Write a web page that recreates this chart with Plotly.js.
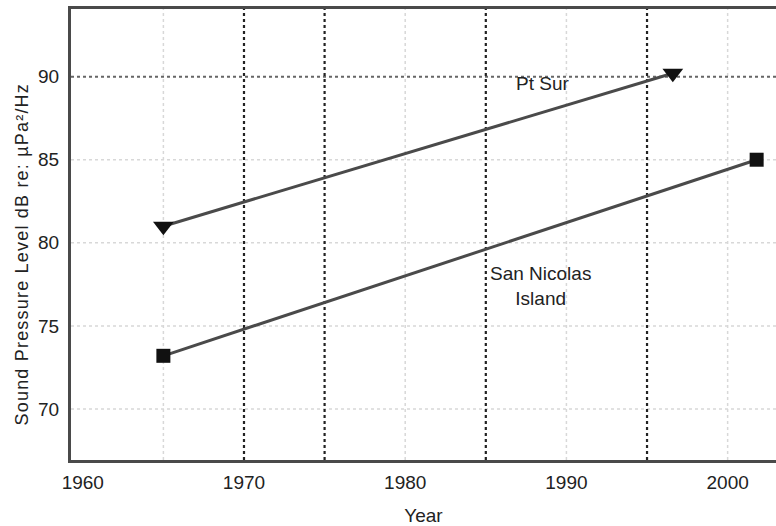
<!DOCTYPE html>
<html>
<head>
<meta charset="utf-8">
<script src="https://cdn.plot.ly/plotly-3.0.1.min.js"></script>
<style>html,body{margin:0;padding:0;background:#fff;}#chart{width:776px;height:526px;}</style>
</head>
<body>
<div id="chart"></div>
<script>
// Data
const ptSurYears = [1965, 1996.6];
const ptSurLevels = [81.0, 90.2];
const sanNicolasYears = [1965, 2001.8];
const sanNicolasLevels = [73.2, 85.0];

const xTickVals = [1960, 1970, 1980, 1990, 2000];
const yTickVals = [70, 75, 80, 85, 90];
const darkGridYears = [1970, 1975, 1985, 1995];
const faintGridYears = [1965, 1980, 1990, 2000];
const darkGridLevels = [90];
const faintGridLevels = [70, 75, 80, 85];

const labelPtSur = {x: 1988.5, y: 89.6, text: 'Pt Sur'};
const labelSanNicolas = {x: 1988.4, y: 77.4, text: 'San Nicolas<br>Island'};
const yTitleText = 'Sound Pressure Level dB re: µPa²/Hz';

const traces = [
  {
    x: ptSurYears, y: ptSurLevels, type: 'scatter', mode: 'lines+markers',
    name: 'Pt Sur',
    line: {color: '#4a4a4a', width: 3},
    marker: {symbol: 'triangle-down', size: 18, color: '#111'}
  },
  {
    x: sanNicolasYears, y: sanNicolasLevels, type: 'scatter', mode: 'lines+markers',
    name: 'San Nicolas Island',
    line: {color: '#4a4a4a', width: 3},
    marker: {symbol: 'square', size: 14, color: '#111'}
  }
];

const shapes = [];
faintGridYears.forEach(v => shapes.push({type: 'line', layer: 'below', xref: 'x', yref: 'paper', x0: v, x1: v, y0: 0, y1: 1, line: {color: '#d8d8d8', width: 1.5, dash: 'dot'}}));
faintGridLevels.forEach(v => shapes.push({type: 'line', layer: 'below', xref: 'paper', yref: 'y', x0: 0, x1: 1, y0: v, y1: v, line: {color: '#d8d8d8', width: 1.5, dash: 'dot'}}));
darkGridLevels.forEach(v => shapes.push({type: 'line', layer: 'below', xref: 'paper', yref: 'y', x0: 0, x1: 1, y0: v, y1: v, line: {color: '#666', width: 2, dash: 'dot'}}));
darkGridYears.forEach(v => shapes.push({type: 'line', layer: 'below', xref: 'x', yref: 'paper', x0: v, x1: v, y0: 0, y1: 1, line: {color: '#222', width: 2.2, dash: 'dot'}}));

const layout = {
  width: 776, height: 526,
  margin: {l: 71, r: 0, t: 9, b: 66},
  paper_bgcolor: '#fff', plot_bgcolor: '#fff',
  showlegend: false,
  font: {family: 'Liberation Sans, Arial, sans-serif', color: '#222'},
  xaxis: {
    range: [1959.27, 2003.0],
    tickvals: xTickVals,
    ticks: '', showgrid: false, zeroline: false,
    showline: true, mirror: true, linecolor: '#4a4a4a', linewidth: 3,
    tickfont: {size: 19, color: '#222'},
    ticklabelstandoff: 3,
    title: {text: 'Year', font: {size: 19, color: '#222'}, standoff: 19}
  },
  yaxis: {
    range: [66.93, 94.07],
    tickvals: yTickVals,
    ticks: '', showgrid: false, zeroline: false,
    showline: true, mirror: false, linecolor: '#4a4a4a', linewidth: 3,
    tickfont: {size: 19, color: '#222'},
    ticklabelstandoff: 5
  },
  shapes: shapes,
  annotations: [
    {x: labelPtSur.x, y: labelPtSur.y, text: labelPtSur.text, showarrow: false, font: {size: 19, color: '#222'}},
    {x: labelSanNicolas.x, y: labelSanNicolas.y, text: labelSanNicolas.text, showarrow: false, font: {size: 19, color: '#222'}},
    {xref: 'paper', yref: 'paper', x: 0, y: 0.5, xanchor: 'center', yanchor: 'middle',
     xshift: -50, yshift: -20, textangle: -90,
     text: yTitleText, showarrow: false, font: {size: 18, color: '#222'}}
  ]
};

Plotly.newPlot('chart', traces, layout, {displayModeBar: false, staticPlot: true}).then(function () {
  const texts = document.querySelectorAll('#chart .annotation-text');
  if (texts.length > 2) texts[2].style.letterSpacing = '1.2px';
});
</script>
</body>
</html>
